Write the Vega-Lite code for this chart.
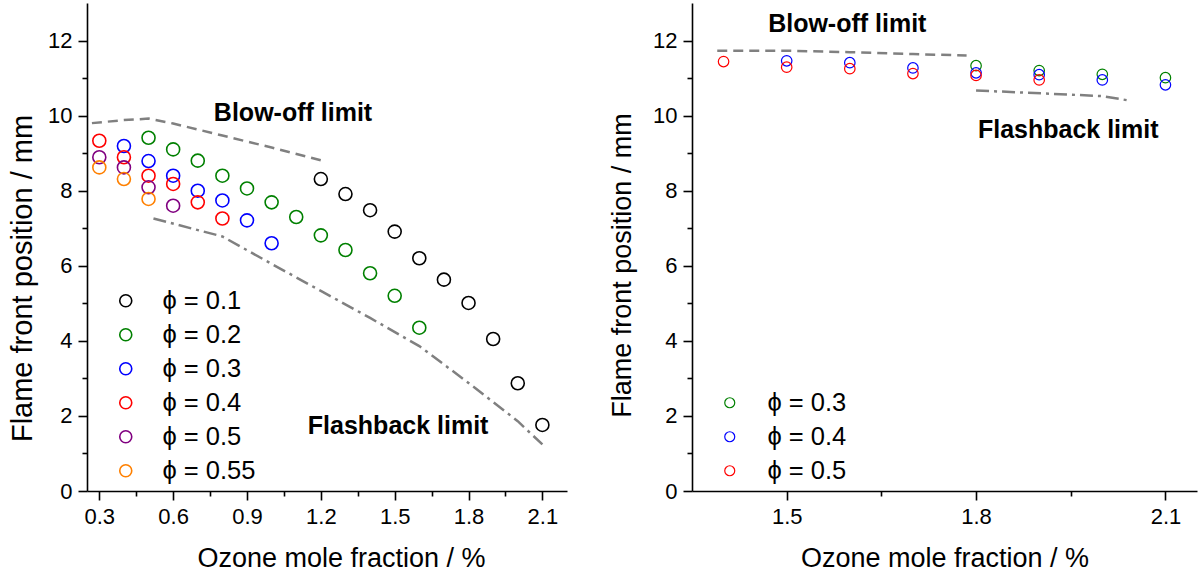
{
  "$schema": "https://vega.github.io/schema/vega-lite/v6.json",
  "padding": {"left": 8, "top": 3, "right": 3, "bottom": 2},
  "config": {
    "view": {"stroke": null},
    "font": "Liberation Sans",
    "axis": {
      "labelFont": "Liberation Sans",
      "titleFont": "Liberation Sans",
      "labelFontSize": 22,
      "titleFontSize": 27,
      "titleFontWeight": "normal",
      "labelColor": "#000000",
      "titleColor": "#000000",
      "domainColor": "#000000",
      "tickColor": "#000000",
      "domainWidth": 1.6,
      "tickWidth": 1.6,
      "grid": false,
      "labelOverlap": false,
      "labelFlush": false,
      "labelPadding": 6
    },
    "legend": {
      "labelFont": "Liberation Sans",
      "labelFontSize": 25.5,
      "labelColor": "#000000",
      "padding": 0,
      "rowPadding": 7,
      "symbolType": "circle",
      "symbolFillColor": "transparent",
      "title": null
    }
  },
  "datasets": {
    "leftPts": [
      {"x": 1.2, "y": 8.31, "series": "ϕ = 0.1"}, {"x": 1.3, "y": 7.91, "series": "ϕ = 0.1"}, {"x": 1.4, "y": 7.48, "series": "ϕ = 0.1"}, {"x": 1.5, "y": 6.91, "series": "ϕ = 0.1"}, {"x": 1.6, "y": 6.2, "series": "ϕ = 0.1"}, {"x": 1.7, "y": 5.63, "series": "ϕ = 0.1"}, {"x": 1.8, "y": 5.01, "series": "ϕ = 0.1"}, {"x": 1.9, "y": 4.05, "series": "ϕ = 0.1"}, {"x": 2.0, "y": 2.87, "series": "ϕ = 0.1"}, {"x": 2.1, "y": 1.76, "series": "ϕ = 0.1"},
      {"x": 0.5, "y": 9.41, "series": "ϕ = 0.2"}, {"x": 0.6, "y": 9.1, "series": "ϕ = 0.2"}, {"x": 0.7, "y": 8.8, "series": "ϕ = 0.2"}, {"x": 0.8, "y": 8.4, "series": "ϕ = 0.2"}, {"x": 0.9, "y": 8.06, "series": "ϕ = 0.2"}, {"x": 1.0, "y": 7.69, "series": "ϕ = 0.2"}, {"x": 1.1, "y": 7.3, "series": "ϕ = 0.2"}, {"x": 1.2, "y": 6.81, "series": "ϕ = 0.2"}, {"x": 1.3, "y": 6.42, "series": "ϕ = 0.2"}, {"x": 1.4, "y": 5.8, "series": "ϕ = 0.2"}, {"x": 1.5, "y": 5.2, "series": "ϕ = 0.2"}, {"x": 1.6, "y": 4.35, "series": "ϕ = 0.2"},
      {"x": 0.4, "y": 9.19, "series": "ϕ = 0.3"}, {"x": 0.5, "y": 8.79, "series": "ϕ = 0.3"}, {"x": 0.6, "y": 8.4, "series": "ϕ = 0.3"}, {"x": 0.7, "y": 8.0, "series": "ϕ = 0.3"}, {"x": 0.8, "y": 7.74, "series": "ϕ = 0.3"}, {"x": 0.9, "y": 7.21, "series": "ϕ = 0.3"}, {"x": 1.0, "y": 6.6, "series": "ϕ = 0.3"},
      {"x": 0.3, "y": 9.33, "series": "ϕ = 0.4"}, {"x": 0.4, "y": 8.89, "series": "ϕ = 0.4"}, {"x": 0.5, "y": 8.4, "series": "ϕ = 0.4"}, {"x": 0.6, "y": 8.18, "series": "ϕ = 0.4"}, {"x": 0.7, "y": 7.69, "series": "ϕ = 0.4"}, {"x": 0.8, "y": 7.26, "series": "ϕ = 0.4"},
      {"x": 0.3, "y": 8.89, "series": "ϕ = 0.5"}, {"x": 0.4, "y": 8.62, "series": "ϕ = 0.5"}, {"x": 0.5, "y": 8.09, "series": "ϕ = 0.5"}, {"x": 0.6, "y": 7.6, "series": "ϕ = 0.5"},
      {"x": 0.3, "y": 8.62, "series": "ϕ = 0.55"}, {"x": 0.4, "y": 8.31, "series": "ϕ = 0.55"}, {"x": 0.5, "y": 7.78, "series": "ϕ = 0.55"}
    ],
    "leftLines": [
      {"x": 0.27, "y": 9.8, "kind": "blow"}, {"x": 0.4, "y": 9.88, "kind": "blow"}, {"x": 0.5, "y": 9.92, "kind": "blow"}, {"x": 0.6, "y": 9.79, "kind": "blow"}, {"x": 0.8, "y": 9.47, "kind": "blow"}, {"x": 1.0, "y": 9.15, "kind": "blow"}, {"x": 1.2, "y": 8.81, "kind": "blow"},
      {"x": 0.52, "y": 7.26, "kind": "flash"}, {"x": 0.8, "y": 6.78, "kind": "flash"}, {"x": 1.0, "y": 6.05, "kind": "flash"}, {"x": 1.2, "y": 5.33, "kind": "flash"}, {"x": 1.4, "y": 4.61, "kind": "flash"}, {"x": 1.6, "y": 3.86, "kind": "flash"}, {"x": 1.8, "y": 2.88, "kind": "flash"}, {"x": 2.0, "y": 1.86, "kind": "flash"}, {"x": 2.1, "y": 1.24, "kind": "flash"}
    ],
    "leftNotes": [
      {"x": 1.087, "y": 10.07, "label": "Blow-off limit"},
      {"x": 1.514, "y": 1.73, "label": "Flashback limit"}
    ],
    "rightPts": [
      {"x": 1.8, "y": 11.33, "series": "ϕ = 0.3"}, {"x": 1.9, "y": 11.2, "series": "ϕ = 0.3"}, {"x": 2.0, "y": 11.1, "series": "ϕ = 0.3"}, {"x": 2.1, "y": 11.01, "series": "ϕ = 0.3"},
      {"x": 1.5, "y": 11.46, "series": "ϕ = 0.4"}, {"x": 1.6, "y": 11.41, "series": "ϕ = 0.4"}, {"x": 1.7, "y": 11.27, "series": "ϕ = 0.4"}, {"x": 1.8, "y": 11.14, "series": "ϕ = 0.4"}, {"x": 1.9, "y": 11.09, "series": "ϕ = 0.4"}, {"x": 2.0, "y": 10.95, "series": "ϕ = 0.4"}, {"x": 2.1, "y": 10.82, "series": "ϕ = 0.4"},
      {"x": 1.4, "y": 11.44, "series": "ϕ = 0.5"}, {"x": 1.5, "y": 11.29, "series": "ϕ = 0.5"}, {"x": 1.6, "y": 11.25, "series": "ϕ = 0.5"}, {"x": 1.7, "y": 11.12, "series": "ϕ = 0.5"}, {"x": 1.8, "y": 11.07, "series": "ϕ = 0.5"}, {"x": 1.9, "y": 10.95, "series": "ϕ = 0.5"}
    ],
    "rightLines": [
      {"x": 1.39, "y": 11.73, "kind": "blow"}, {"x": 1.5, "y": 11.73, "kind": "blow"}, {"x": 1.6, "y": 11.69, "kind": "blow"}, {"x": 1.7, "y": 11.64, "kind": "blow"}, {"x": 1.785, "y": 11.6, "kind": "blow"},
      {"x": 1.8, "y": 10.67, "kind": "flash"}, {"x": 2.0, "y": 10.52, "kind": "flash"}, {"x": 2.043, "y": 10.4, "kind": "flash"}
    ],
    "rightNotes": [
      {"x": 1.596, "y": 12.43, "label": "Blow-off limit"},
      {"x": 1.946, "y": 9.63, "label": "Flashback limit"}
    ]
  },
  "hconcat": [
    {
      "width": 480,
      "height": 488,
      "encoding": {
        "x": {
          "field": "x", "type": "quantitative",
          "scale": {"domain": [0.25, 2.2], "nice": false, "zero": false},
          "axis": {
            "title": "Ozone mole fraction / %",
            "titlePadding": 18,
            "titleX": 254,
            "values": [0.3, 0.45, 0.6, 0.75, 0.9, 1.05, 1.2, 1.35, 1.5, 1.65, 1.8, 1.95, 2.1],
            "labelExpr": "abs(datum.value / 0.3 - round(datum.value / 0.3)) < 0.01 ? format(datum.value, '.1f') : ''",
            "tickSize": {"condition": {"test": "abs(datum.value / 0.3 - round(datum.value / 0.3)) > 0.01", "value": 5}, "value": 9}
          }
        },
        "y": {
          "field": "y", "type": "quantitative",
          "scale": {"domain": [0, 13], "nice": false, "zero": true},
          "axis": {
            "title": "Flame front position / mm",
            "titleFontSize": 29,
            "titleY": 275,
            "titlePadding": 10,
            "labelPadding": 6,
            "values": [0, 1, 2, 3, 4, 5, 6, 7, 8, 9, 10, 11, 12],
            "labelExpr": "datum.value % 2 === 0 ? datum.label : ''",
            "tickSize": {"condition": {"test": "datum.value % 2 === 1", "value": 5}, "value": 9}
          }
        }
      },
      "layer": [
        {
          "data": {"name": "leftLines"},
          "transform": [{"filter": "datum.kind === 'blow'"}],
          "mark": {"type": "line", "color": "#808080", "strokeWidth": 2.5, "strokeDash": [10, 6]},
          "encoding": {"order": {"field": "x", "type": "quantitative"}}
        },
        {
          "data": {"name": "leftLines"},
          "transform": [{"filter": "datum.kind === 'flash'"}],
          "mark": {"type": "line", "color": "#808080", "strokeWidth": 2.5, "strokeDash": [13, 5, 3, 5]},
          "encoding": {"order": {"field": "x", "type": "quantitative"}}
        },
        {
          "data": {"name": "leftPts"},
          "mark": {"type": "point", "shape": "circle", "filled": false, "size": 169, "strokeWidth": 1.6, "opacity": 1},
          "encoding": {
            "color": {
              "field": "series", "type": "nominal",
              "scale": {
                "domain": ["ϕ = 0.1", "ϕ = 0.2", "ϕ = 0.3", "ϕ = 0.4", "ϕ = 0.5", "ϕ = 0.55"],
                "range": ["#000000", "#008000", "#0000ff", "#ff0000", "#800080", "#ff8000"]
              },
              "legend": {
                "orient": "none",
                "legendX": 26,
                "legendY": 285,
                "labelOffset": 24,
                "symbolSize": 144,
                "symbolStrokeWidth": 1.6
              }
            }
          }
        },
        {
          "data": {"name": "leftNotes"},
          "mark": {"type": "text", "fontSize": 25, "fontWeight": "bold", "font": "Liberation Sans", "color": "#000000", "align": "center", "baseline": "middle"},
          "encoding": {"text": {"field": "label", "type": "nominal"}}
        }
      ]
    },
    {
      "width": 505,
      "height": 488,
      "encoding": {
        "x": {
          "field": "x", "type": "quantitative",
          "scale": {"domain": [1.35, 2.15], "nice": false, "zero": false},
          "axis": {
            "title": "Ozone mole fraction / %",
            "titlePadding": 18,
            "values": [1.5, 1.65, 1.8, 1.95, 2.1],
            "labelExpr": "abs(datum.value / 0.3 - round(datum.value / 0.3)) < 0.01 ? format(datum.value, '.1f') : ''",
            "tickSize": {"condition": {"test": "abs(datum.value / 0.3 - round(datum.value / 0.3)) > 0.01", "value": 5}, "value": 9}
          }
        },
        "y": {
          "field": "y", "type": "quantitative",
          "scale": {"domain": [0, 13], "nice": false, "zero": true},
          "axis": {
            "title": "Flame front position / mm",
            "titleY": 262,
            "titlePadding": 16,
            "labelPadding": 6,
            "values": [0, 1, 2, 3, 4, 5, 6, 7, 8, 9, 10, 11, 12],
            "labelExpr": "datum.value % 2 === 0 ? datum.label : ''",
            "tickSize": {"condition": {"test": "datum.value % 2 === 1", "value": 5}, "value": 9}
          }
        }
      },
      "layer": [
        {
          "data": {"name": "rightLines"},
          "transform": [{"filter": "datum.kind === 'blow'"}],
          "mark": {"type": "line", "color": "#808080", "strokeWidth": 2.5, "strokeDash": [10, 6]},
          "encoding": {"order": {"field": "x", "type": "quantitative"}}
        },
        {
          "data": {"name": "rightLines"},
          "transform": [{"filter": "datum.kind === 'flash'"}],
          "mark": {"type": "line", "color": "#808080", "strokeWidth": 2.5, "strokeDash": [13, 5, 3, 5]},
          "encoding": {"order": {"field": "x", "type": "quantitative"}}
        },
        {
          "data": {"name": "rightPts"},
          "mark": {"type": "point", "shape": "circle", "filled": false, "size": 110, "strokeWidth": 1.2, "opacity": 1},
          "encoding": {
            "color": {
              "field": "series", "type": "nominal",
              "scale": {
                "domain": ["ϕ = 0.3", "ϕ = 0.4", "ϕ = 0.5"],
                "range": ["#008000", "#0000ff", "#ff0000"]
              },
              "legend": {
                "orient": "none",
                "legendX": 25,
                "legendY": 387,
                "labelOffset": 25,
                "symbolSize": 100,
                "symbolStrokeWidth": 1.2
              }
            }
          }
        },
        {
          "data": {"name": "rightNotes"},
          "mark": {"type": "text", "fontSize": 25, "fontWeight": "bold", "font": "Liberation Sans", "color": "#000000", "align": "center", "baseline": "middle"},
          "encoding": {"text": {"field": "label", "type": "nominal"}}
        }
      ]
    }
  ],
  "spacing": 41,
  "resolve": {"scale": {"color": "independent", "x": "independent", "y": "independent"}, "legend": {"color": "independent"}}
}
